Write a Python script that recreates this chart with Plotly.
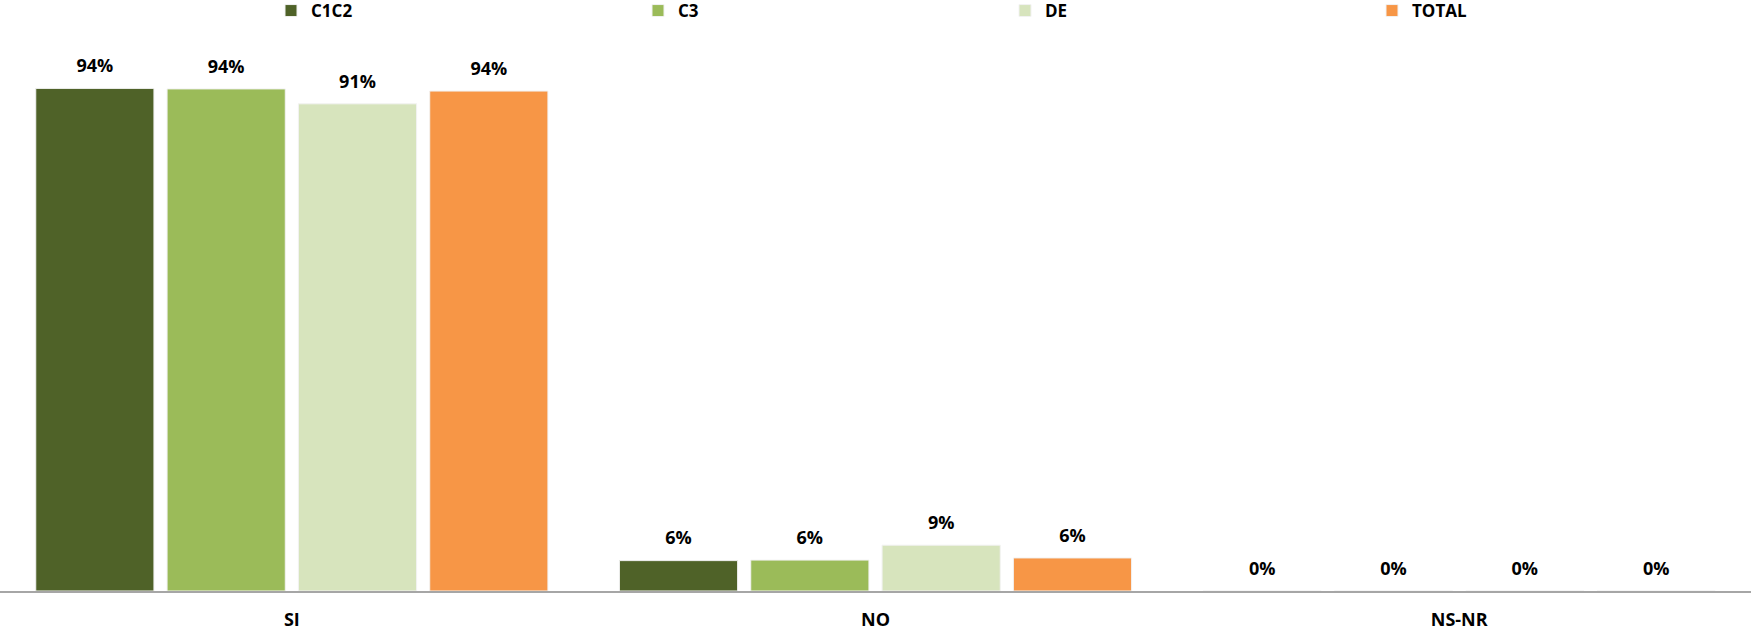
import plotly.graph_objects as go

categories = ["SI", "NO", "NS-NR"]
series_names = ["C1C2", "C3", "DE", "TOTAL"]
c1c2 = [94.3, 5.7, 0]
c3 = [94.2, 5.8, 0]
de = [91.4, 8.6, 0]
total = [93.8, 6.2, 0]
colors = ["#4F6228", "#9BBB59", "#D7E4BD", "#F79646"]

W, H = 1751, 630
FONT = "Open Sans"
fig = go.Figure()
for i, (name, vals, col) in enumerate(zip(series_names, [c1c2, c3, de, total], colors)):
    fig.add_trace(go.Bar(
        name=name, x=categories, y=vals, offsetgroup=str(i),
        marker=dict(color=col, line=dict(color="#F2F2F2", width=1)),
        hoverinfo="skip",
    ))
for i, (name, vals) in enumerate(zip(series_names, [c1c2, c3, de, total])):
    fig.add_trace(go.Scatter(
        x=categories, y=vals, offsetgroup=str(i), mode="markers+text",
        marker=dict(size=17, opacity=0),
        text=[f"{v:.0f}%" for v in vals], textposition="top center",
        textfont=dict(family=FONT, size=18, color="black", weight="bold"),
        showlegend=False, hoverinfo="skip", cliponaxis=False,
    ))

fig.update_layout(
    width=W, height=H,
    margin=dict(l=0, r=0, t=58, b=39, autoexpand=False),
    paper_bgcolor="white", plot_bgcolor="white",
    barmode="group", bargap=0.1, bargroupgap=0.1,
    scattermode="group", scattergap=0.1,
    showlegend=True,
    legend=dict(orientation="h", x=271 / W, y=1 + (58 - 11) / 533, xanchor="left", yanchor="middle",
                entrywidth=322, entrywidthmode="pixels",
                font=dict(family=FONT, size=17, color="black", weight="bold"),
                itemclick=False, traceorder="normal"),
    xaxis=dict(showline=True, linecolor="#A6A6A6", linewidth=2, ticks="",
               ticklabelstandoff=11, showgrid=False,
               tickfont=dict(family=FONT, size=18, color="black", weight="bold")),
    yaxis=dict(range=[0, 100], visible=False, showgrid=False, zeroline=False),
)
fig.write_html("out.html", config={"displayModeBar": False},
               post_script="document.body.style.margin='0';")
